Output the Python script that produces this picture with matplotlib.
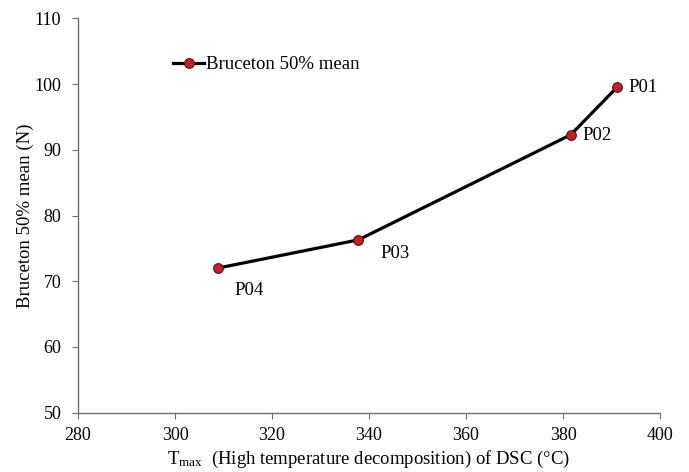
import matplotlib
matplotlib.use("Agg")
import matplotlib.pyplot as plt

# Data
names = ["P01", "P02", "P03", "P04"]
t_max = [391.1, 381.6, 337.8, 308.8]
bruceton = [99.5, 92.3, 76.3, 72.0]
# label offsets in pixels (dx, dy)
label_offsets = [(12, 0), (12, -1), (22, -14), (17, -22)]

plt.rcParams["font.family"] = ["Liberation Serif", "DejaVu Serif"]
plt.rcParams["font.size"] = 13.5
plt.rcParams["mathtext.fontset"] = "custom"
plt.rcParams["mathtext.rm"] = "Liberation Serif"
plt.rcParams["mathtext.it"] = "Liberation Serif:italic"

fig = plt.figure(figsize=(6.89, 4.72), dpi=100)
ax = fig.add_axes([0.1132, 0.1256, 0.8448, 0.8354])

ax.plot(t_max, bruceton, color="black", linewidth=2.3, marker="o",
        markersize=7, markerfacecolor="#C0202A", markeredgecolor="#5a1010",
        markeredgewidth=0.8, label="Bruceton 50% mean", zorder=3)

for name, x, y, (dx, dy) in zip(names, t_max, bruceton, label_offsets):
    ax.annotate(name, (x, y), xytext=(dx, dy), textcoords="offset pixels",
                ha="left", va="center", fontsize=13.5)

ax.set_xlim(280, 400)
ax.set_ylim(50, 110)
ax.set_xticks(range(280, 401, 20))
ax.set_yticks(range(50, 111, 10))

for side in ["top", "right"]:
    ax.spines[side].set_visible(False)
for side in ["left", "bottom"]:
    ax.spines[side].set_color("#6e6e6e")
    ax.spines[side].set_linewidth(1.0)
ax.tick_params(direction="out", length=4, color="#6e6e6e", labelsize=13)
ax.tick_params(axis="y", pad=8)
ax.tick_params(axis="x", pad=6.5)

ax.set_xlabel(r"T$_{\mathrm{max}}$  (High temperature decomposition) of DSC (°C)",
              labelpad=3.5)
ax.set_ylabel("Bruceton 50% mean (N)", labelpad=0)

ax.legend(loc="upper left", bbox_to_anchor=(0.135, 0.947), frameon=False,
          handlelength=1.65, handletextpad=0.1, fontsize=13.5)

fig.savefig("out.png", dpi=100)
